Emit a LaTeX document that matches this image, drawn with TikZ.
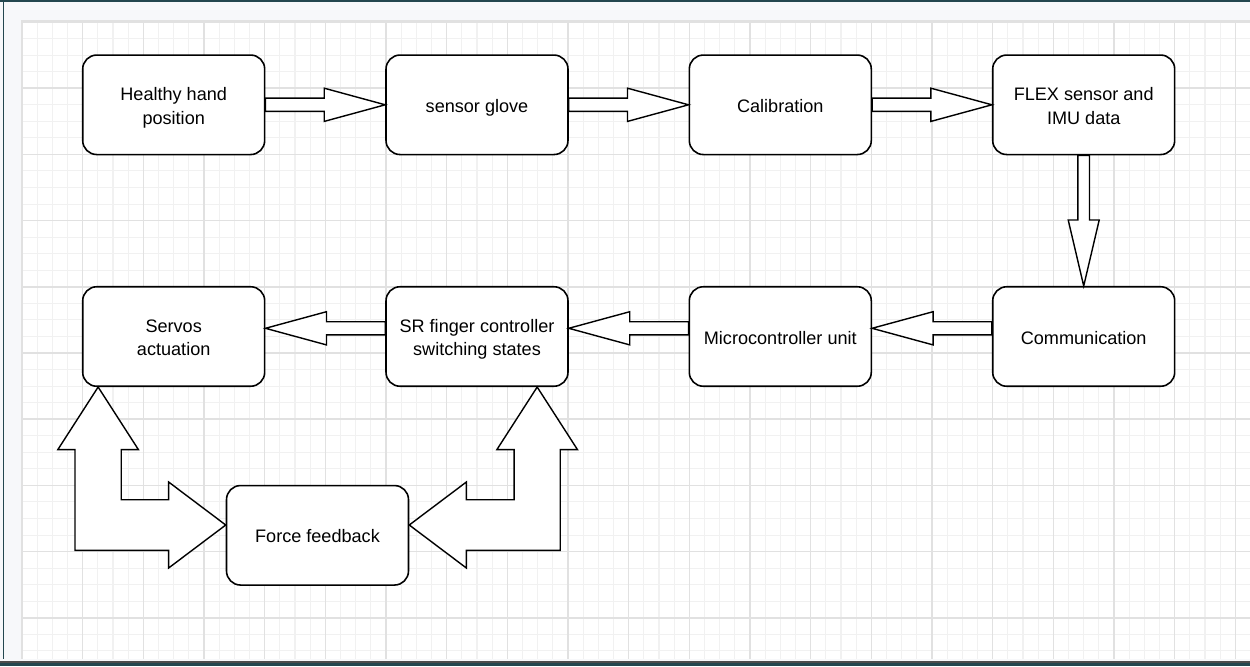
\documentclass[tikz,border=0pt]{standalone}
\usepackage{fontspec}
\setmainfont{Liberation Sans}
\definecolor{frame}{HTML}{24474F}
\definecolor{panel}{HTML}{F7F8FA}
\definecolor{minorgrid}{HTML}{F1F1F1}
\definecolor{majorgrid}{HTML}{E1E1E1}
\newcommand{\blockstrut}{\rule[-2.3pt]{0pt}{13.25pt}}
\newcommand{\topstrut}{\rule{0pt}{11pt}}
\tikzset{
	block/.style={draw, line width=0.9pt, rounded corners=0.28cm, fill=white,
		minimum width=3.64cm, minimum height=1.99cm, align=center, inner sep=0pt,
		execute at begin node=\blockstrut, execute at end node=\blockstrut},
	flexarrow/.style={draw, fill=white, line width=0.8pt, line join=miter},
}
\newcommand{\flexh}[3]{%
	\draw[flexarrow] ([shift={(0,-6.6)}]#1) -- ([shift={({-61*(#3)},-6.6)}]#2)
	-- ([shift={({-61*(#3)},-16.6)}]#2) -- (#2) -- ([shift={({-61*(#3)},16.6)}]#2)
	-- ([shift={({-61*(#3)},6.6)}]#2) -- ([shift={(0,6.6)}]#1) -- cycle;}
\newcommand{\flexv}[2]{%
	\draw[flexarrow] ([shift={(-5.8,0)}]#1) -- ([shift={(-5.8,-66)}]#2)
	-- ([shift={(-15.5,-66)}]#2) -- (#2) -- ([shift={(15.5,-66)}]#2)
	-- ([shift={(5.8,-66)}]#2) -- ([shift={(5.8,0)}]#1) -- cycle;}
\newcommand{\bentflex}[4]{%
	\draw[flexarrow] (#1) -- ([shift={({40.3*(#4)},62.6)}]#1)
	-- ([shift={({23.1*(#4)},62.6)}]#1) -- ([shift={({23.1*(#4)},-25.3)}]#2)
	-- ([shift={({-57.1*(#4)},-25.3)}]#3) -- ([shift={({-57.1*(#4)},-43)}]#3)
	-- (#3) -- ([shift={({-57.1*(#4)},43)}]#3) -- ([shift={({-57.1*(#4)},25.3)}]#3)
	-- ([shift={({-23.1*(#4)},25.3)}]#2) -- ([shift={({-23.1*(#4)},62.6)}]#1)
	-- ([shift={({-40.3*(#4)},62.6)}]#1) -- cycle;}
\begin{document}
\begin{tikzpicture}[x=0.02cm, y=-0.02cm, font=\fontsize{10.3}{13.4}\selectfont]
	\useasboundingbox (0,0) rectangle (1250,666);
	\fill[frame] (0,0) rectangle (1250,666);
	\fill[panel] (0,2.3) rectangle (1250,661);
	\fill[frame] (2.7,2.3) rectangle (4,659);
	\fill[black!70] (0,661) rectangle (1250,663.3);
	\fill[white] (22,20.7) rectangle (1250,658.7);
	\begin{scope}
		\clip (22,20.7) rectangle (1250,658.7);
		\foreach \i in {0,...,81}
		\draw[minorgrid, line width=0.6pt] ({22+\i*15.1667},20.7) -- ({22+\i*15.1667},658.7);
		\foreach \j in {0,...,38}
		\draw[minorgrid, line width=0.6pt] (22,{22+\j*16.55}) -- (1250,{22+\j*16.55});
		\foreach \i in {0,...,20}
		\draw[majorgrid, line width=0.85pt] ({22+\i*60.667},20.7) -- ({22+\i*60.667},658.7);
		\foreach \j in {0,...,9}
		\draw[majorgrid, line width=0.85pt] (22,{22+\j*66.2}) -- (1250,{22+\j*66.2});
	\end{scope}
	\draw[majorgrid, line width=0.8pt] (21.6,658.7) -- (21.6,20.3) -- (1250,20.3);
	
	\node[block] (hand) at (173.7,104.8) {\topstrut Healthy hand\\position};
	\node[block] (glove) at (477,104.8) {sensor glove};
	\node[block] (calib) at (780.3,104.8) {Calibration};
	\node[block] (flex) at (1083.7,104.8) {\topstrut FLEX sensor and\\IMU data};
	\node[block] (comm) at (1083.7,336.5) {Communication};
	\node[block] (micro) at (780.3,336.5) {Microcontroller unit};
	\node[block] (sr) at (477,336.5) {\topstrut SR finger controller\\switching states};
	\node[block] (servos) at (173.7,336.5) {\topstrut Servos\\actuation};
	\node[block] (force) at (317.5,535.3) {Force feedback};
	
	\flexh{hand.east}{glove.west}{1}
	\flexh{glove.east}{calib.west}{1}
	\flexh{calib.east}{flex.west}{1}
	\flexv{flex.south}{comm.north}
	
	\coordinate (commout) at ([shift={(0,-8.2)}]comm.west);
	\coordinate (microin) at ([shift={(0,-8.2)}]micro.east);
	\coordinate (microout) at ([shift={(0,-8.2)}]micro.west);
	\coordinate (srin) at ([shift={(0,-8.2)}]sr.east);
	\coordinate (srout) at ([shift={(0,-8.2)}]sr.west);
	\coordinate (servosin) at ([shift={(0,-8.2)}]servos.east);
	\flexh{commout}{microin}{-1}
	\flexh{microout}{srin}{-1}
	\flexh{srout}{servosin}{-1}
	
	\coordinate (svtip) at ([shift={(16.2,0)}]servos.south west);
	\coordinate (srtip) at ([shift={(-31.6,0)}]sr.south east);
	\coordinate (fbleft) at ([shift={(0,-10.3)}]force.west);
	\coordinate (fbright) at ([shift={(0,-10.3)}]force.east);
	\coordinate (svbend) at (svtip |- fbleft);
	\coordinate (srbend) at (srtip |- fbright);
	\bentflex{svtip}{svbend}{fbleft}{1}
	\bentflex{srtip}{srbend}{fbright}{-1}
\end{tikzpicture}
\end{document}
